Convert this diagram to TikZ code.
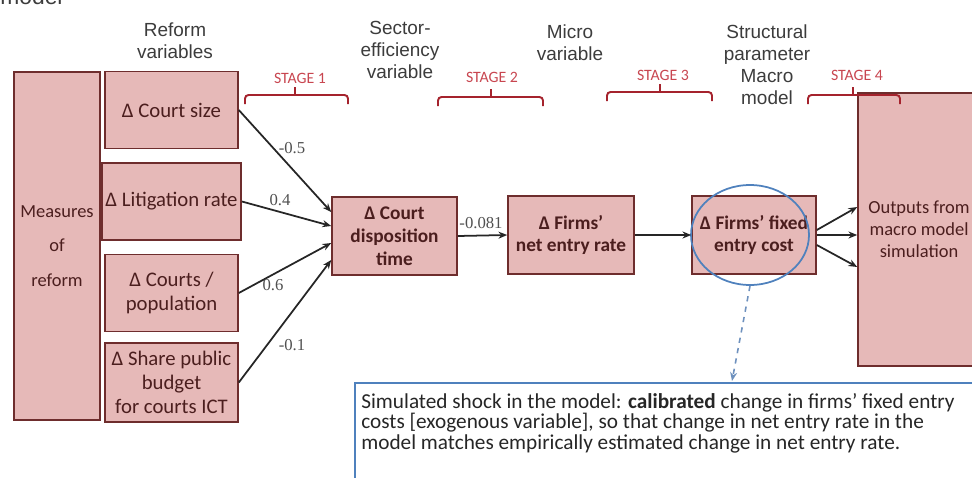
\documentclass[tikz,border=0pt]{standalone}
\usepackage{fontspec}
\setmainfont{Carlito}
\newfontfamily\headfont{Liberation Sans}
\newfontfamily\numfont{Liberation Serif}
\usetikzlibrary{arrows.meta,shapes.geometric,positioning}

\definecolor{boxfill}{RGB}{230,185,184}
\definecolor{boxline}{RGB}{110,45,45}
\definecolor{boxtext}{RGB}{75,30,30}
\definecolor{headgrey}{RGB}{60,60,60}
\definecolor{numgrey}{RGB}{80,80,80}
\definecolor{stagered}{RGB}{200,70,80}
\definecolor{bracered}{RGB}{165,35,45}
\definecolor{ringblue}{RGB}{79,129,189}
\definecolor{dashblue}{RGB}{110,145,190}

\tikzset{
  varbox/.style={draw=boxline, fill=boxfill, line width=0.9pt, text=boxtext,
    align=center, inner sep=2pt, font=\fontsize{11.8}{13.5}\selectfont},
  keybox/.style={varbox, font=\bfseries\fontsize{11}{13}\selectfont},
  head/.style={text=headgrey, align=center, font=\headfont\fontsize{10.8}{12.5}\selectfont},
  stagelab/.style={text=stagered, font=\fontsize{9}{10}\selectfont},
  bracket/.style={draw=bracered, line width=1.1pt, rounded corners=2pt},
  wlab/.style={text=numgrey, font=\numfont\fontsize{9.5}{11}\selectfont},
  flow/.style={->, line width=1pt, draw=black!85},
}

\begin{document}
\begin{tikzpicture}[x=0.02cm, y=-0.02cm, >={Stealth[length=5pt,width=4pt]}]
  \useasboundingbox (0,0) rectangle (972,477);

  % title remnant and column headers
  \node[head, font=\headfont\fontsize{13}{15}\selectfont, anchor=base west, inner sep=0pt] (title) at (0,4) {model};
  \node[head] (hreform) at (175,41) {Reform\\variables};
  \node[head] (hsector) at (400,50) {Sector-\\efficiency\\variable};
  \node[head] (hmicro) at (570,43) {Micro\\variable};
  \node[head] (hstruct) at (767,65) {Structural\\parameter\\Macro\\model};

  % boxes
  \node[varbox, minimum width=1.72cm, minimum height=6.96cm, font=\fontsize{10.5}{12.5}\selectfont] (measures) at (57,246) {Measures\\[7pt]of\\[7pt]reform};
  \node[varbox, minimum width=2.66cm, minimum height=1.54cm] (size) at (171.5,110) {Δ Court size};
  \node[varbox, minimum width=2.66cm, minimum height=1.54cm] (litig) at (171.5,201.5) {Δ Litigation rate};
  \node[varbox, minimum width=2.66cm, minimum height=1.54cm] (courts) at (171.5,293) {Δ Courts /\\population};
  \node[varbox, minimum width=2.66cm, minimum height=1.58cm] (budget) at (171.5,382.5) {Δ Share public\\budget\\for courts ICT};
  \node[keybox, minimum width=2.5cm, minimum height=1.56cm] (court) at (394.5,236) {Δ Court\\disposition\\time};
  \node[keybox, minimum width=2.52cm, minimum height=1.56cm] (netentry) at (571,235) {Δ Firms’\\net entry rate};
  \node[keybox, minimum width=2.48cm, minimum height=1.56cm] (fixcost) at (754,235) {Δ Firms’ fixed\\entry cost};
  \node[varbox, minimum width=2.44cm, minimum height=5.46cm, font=\fontsize{10.5}{12.5}\selectfont] (outputs) at (919,229.5) {Outputs from\\macro model\\simulation};
  \node[draw=ringblue, line width=1pt, ellipse, minimum width=2.36cm, minimum height=2cm] (ring) at (750,235) {};

  % stage brackets
  \draw[bracket] (245,104) |- (348,95) -- (348,104);
  \draw[bracket] (295,95) -- (295,87);
  \node[stagelab] (s1) at (300,78) {STAGE 1};
  \draw[bracket] (438,106) |- (543,97) -- (543,106);
  \draw[bracket] (491,97) -- (491,89);
  \node[stagelab] (s2) at (492,77) {STAGE 2};
  \draw[bracket] (607,101) |- (712,92) -- (712,101);
  \draw[bracket] (660,92) -- (660,84);
  \node[stagelab] (s3) at (663,75) {STAGE 3};
  \draw[bracket] (808,104) |- (900,95) -- (900,104);
  \draw[bracket] (853,95) -- (853,87);
  \node[stagelab] (s4) at (857,75) {STAGE 4};

  % arrows and coefficients
  \draw[flow] (size.east) -- ([yshift=0.48cm]court.west);
  \draw[flow] (litig.east) -- ([yshift=0.2cm]court.west);
  \draw[flow] (courts.east) -- ([yshift=-0.14cm]court.west);
  \draw[flow] (budget.east) -- ([yshift=-0.48cm]court.west);
  \node[wlab] (w1) at (292,148) {-0.5};
  \node[wlab] (w2) at (280,200) {0.4};
  \node[wlab] (w3) at (273,285) {0.6};
  \node[wlab] (w4) at (292,345) {-0.1};
  \draw[flow] (court.east) -- (netentry.west);
  \node[wlab] (w5) at (481,223) {-0.081};
  \draw[flow] (netentry.east) -- (fixcost.west);
  \draw[flow] ([yshift=0.1cm]fixcost.east) -- ([yshift=0.45cm]outputs.west);
  \draw[flow] (fixcost.east) -- ([yshift=-0.11cm]outputs.west);
  \draw[flow] ([yshift=-0.2cm]fixcost.east) -- ([yshift=-0.75cm]outputs.west);

  % note on the calibrated shock
  \coordinate (tip) at (732,381);
  \draw[->, dashed, draw=dashblue, line width=0.9pt] (ring.south) -- (tip);
  \draw[draw=ringblue, line width=1pt] (355,490) |- (990,383);
  \node[anchor=north west, align=left, inner sep=0pt, text=black!85,
    font=\fontsize{12.1}{11.6}\selectfont] (note) at (361,393)
    {Simulated shock in the model: \textbf{calibrated} change in firms’ fixed entry\\
     costs [exogenous variable], so that change in net entry rate in the\\
     model matches empirically estimated change in net entry rate.};
\end{tikzpicture}
\end{document}
